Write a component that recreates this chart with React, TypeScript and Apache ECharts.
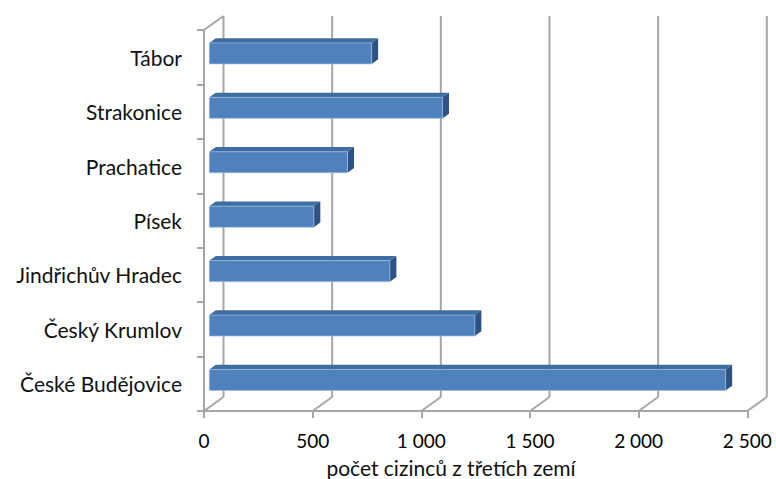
import React, { useEffect, useRef } from "react";
import * as echarts from "echarts";

// Foreign residents from third countries by district (South Bohemia)
const categories = [
  "České Budějovice",
  "Český Krumlov",
  "Jindřichův Hradec",
  "Písek",
  "Prachatice",
  "Strakonice",
  "Tábor",
];
const residents = [2376, 1222, 831, 481, 636, 1073, 747];
const xTicks = [0, 500, 1000, 1500, 2000, 2500];
const axisTitle = "počet cizinců z třetích zemí";

// 3D look: depth of the chart box and of the bars (pixels)
const BOX_DX = 19.5;
const BOX_DY = 14;
const BAR_OFF_X = 5.3;
const BAR_OFF_Y = 3.8;
const BAR_DX = 6.5;
const BAR_DY = 4.7;

const FRONT = "#4f81bd";
const TOP = "#3f6ca2";
const SIDE = "#2d5283";
const GRID = "#a6a6a6";
const FONT = "Lato, 'Open Sans', sans-serif";

const fmt = (v: number) => String(v).replace(/\B(?=(\d{3})+(?!\d))/g, " ");

export default function App() {
  const ref = useRef<HTMLDivElement>(null);

  useEffect(() => {
    if (!ref.current) return;
    const chart = echarts.init(ref.current, undefined, { renderer: "svg" });

    chart.setOption({
      animation: false,
      backgroundColor: "#ffffff",
      grid: { left: 204, top: 30, width: 543.3, height: 381 },
      xAxis: {
        type: "value",
        min: 0,
        max: 2500,
        interval: 500,
        axisLine: { show: true, lineStyle: { color: GRID, width: 2 } },
        axisTick: { show: true, length: 7, lineStyle: { color: GRID, width: 2 } },
        splitLine: { show: false },
        axisLabel: {
          formatter: (v: number) => fmt(v),
          color: "#000",
          fontFamily: FONT,
          fontSize: 19,
          margin: 20,
        },
      },
      yAxis: {
        type: "category",
        data: categories,
        axisLine: { show: true, lineStyle: { color: GRID, width: 2 } },
        axisTick: { show: true, length: 7, lineStyle: { color: GRID, width: 2 } },
        splitLine: { show: false },
        axisLabel: {
          color: "#111",
          fontFamily: FONT,
          fontSize: 21,
          margin: 22,
        },
      },
      graphic: [
        {
          type: "text",
          x: 451,
          y: 467,
          style: {
            text: axisTitle,
            fill: "#111",
            font: `21px ${FONT}`,
            textAlign: "center",
            textVerticalAlign: "middle",
          },
        },
      ],
      series: [
        {
          // back wall gridlines, floor edges and left wall top
          type: "custom",
          clip: false,
          z: 1,
          silent: true,
          data: [[0, 0]],
          encode: { x: 0, y: 1 },
          renderItem: (params: any, api: any) => {
            const cs = params.coordSys;
            const top = cs.y;
            const bottom = cs.y + cs.height;
            const children: any[] = [];
            xTicks.forEach((t) => {
              const x = api.coord([t, 0])[0];
              children.push({
                type: "line",
                shape: { x1: x + BOX_DX, y1: top - BOX_DY, x2: x + BOX_DX, y2: bottom - BOX_DY },
                style: { stroke: GRID, lineWidth: 2 },
              });
              children.push({
                type: "line",
                shape: { x1: x, y1: bottom, x2: x + BOX_DX, y2: bottom - BOX_DY },
                style: { stroke: GRID, lineWidth: 2 },
              });
            });
            children.push({
              type: "line",
              shape: { x1: cs.x, y1: top, x2: cs.x + BOX_DX, y2: top - BOX_DY },
              style: { stroke: GRID, lineWidth: 2 },
            });
            return { type: "group", children };
          },
        },
        {
          type: "custom",
          clip: false,
          z: 5,
          data: residents.map((v, i) => [v, i]),
          encode: { x: 0, y: 1 },
          renderItem: (params: any, api: any) => {
            const v = api.value(0);
            const idx = api.value(1);
            const p0 = api.coord([0, idx]);
            const p1 = api.coord([v, idx]);
            const band = api.size([0, 1])[1];
            const h = band * 0.386;
            const x0 = p0[0] + BAR_OFF_X;
            const x1 = p1[0] + BAR_OFF_X;
            const cy = p0[1] - BAR_OFF_Y;
            const t = cy - h / 2;
            const b = cy + h / 2;
            return {
              type: "group",
              children: [
                {
                  type: "polygon",
                  shape: { points: [[x0, t], [x0 + BAR_DX, t - BAR_DY], [x1 + BAR_DX, t - BAR_DY], [x1, t]] },
                  style: { fill: TOP },
                },
                {
                  type: "polygon",
                  shape: { points: [[x1, t], [x1 + BAR_DX, t - BAR_DY], [x1 + BAR_DX, b - BAR_DY], [x1, b]] },
                  style: { fill: SIDE },
                },
                {
                  type: "rect",
                  shape: { x: x0, y: t, width: x1 - x0, height: h },
                  style: { fill: FRONT, stroke: "rgba(160,190,225,0.7)", lineWidth: 1 },
                },
              ],
            };
          },
        },
      ],
    });

    return () => chart.dispose();
  }, []);

  return (
    <div
      ref={ref}
      style={{ position: "absolute", left: 0, top: 0, width: 776, height: 479 }}
    />
  );
}
